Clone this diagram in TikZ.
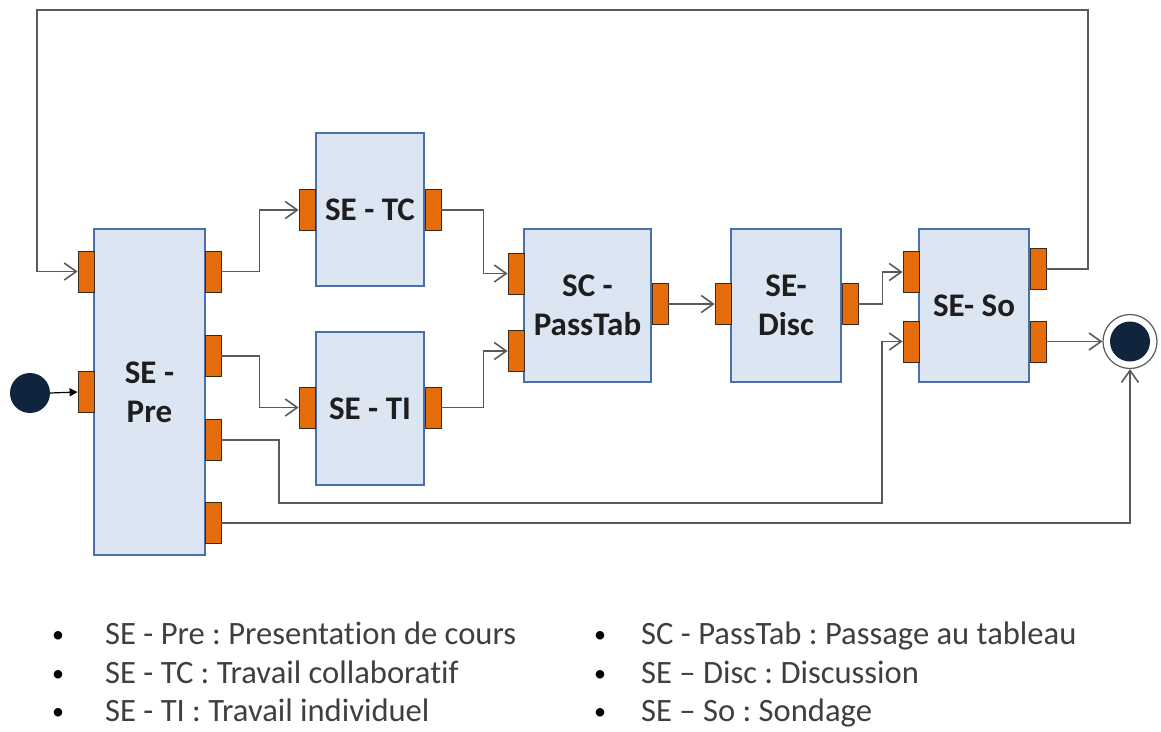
\documentclass[tikz,border=0pt]{standalone}
\usepackage{fontspec}
\setmainfont{Carlito}[Ligatures=NoCommon]
\usetikzlibrary{arrows.meta}
\definecolor{boxfill}{HTML}{DCE6F2}
\definecolor{boxdraw}{HTML}{4A6FAB}
\definecolor{portfill}{HTML}{E46C0A}
\definecolor{portdraw}{HTML}{3A2A1A}
\definecolor{flowcol}{HTML}{5A5A5A}
\definecolor{navy}{HTML}{10243E}
\definecolor{legcol}{HTML}{3F3F3F}
\definecolor{labcol}{HTML}{1E1E1E}
\frenchspacing
\begin{document}
\begin{tikzpicture}[x=1pt,y=-1pt,
  sbox/.style={draw=boxdraw, fill=boxfill, line width=1.4pt, inner sep=0pt,
    align=center, text=labcol, font=\fontsize{33}{39}\selectfont\bfseries},
  port/.style={draw=portdraw, fill=portfill, line width=0.8pt,
    minimum width=16pt, minimum height=41pt, inner sep=0pt},
  flow/.style={draw=flowcol, line width=1.7pt, -{Straight Barb[length=12pt,width=17pt,line width=1.6pt]}},
  legtext/.style={anchor=base west, inner sep=0pt, text=legcol, font=\fontsize{32.6}{38}\selectfont},
  bullet/.style={anchor=base, inner sep=0pt, text=black, font=\fontsize{24}{30}\selectfont}
]
\useasboundingbox (0,0) rectangle (1161,731);

% boxes
\node[sbox, minimum width=111pt, minimum height=326pt] (pre) at (149.5,392) {SE -\\Pre};
\node[sbox, minimum width=108pt, minimum height=153pt] (tc) at (370,209.5) {SE - TC};
\node[sbox, minimum width=108pt, minimum height=153pt] (ti) at (370,408.5) {SE - TI};
\node[sbox, minimum width=127pt, minimum height=153pt] (pt) at (587.5,305.5) {SC -\\PassTab};
\node[sbox, minimum width=110pt, minimum height=153pt] (disc) at (786,305.5) {SE-\\Disc};
\node[sbox, minimum width=110pt, minimum height=153pt] (so) at (974,305.5) {SE- So};

% ports
\node[port] (preL1) at (86,271.5) {};
\node[port] (preL2) at (86,392) {};
\node[port] (preR1) at (213,271.5) {};
\node[port] (preR2) at (213,356) {};
\node[port] (preR3) at (213,440) {};
\node[port] (preR4) at (213,523) {};
\node[port] (tcL) at (307,210) {};
\node[port] (tcR) at (433,210) {};
\node[port] (tiL) at (307,407.5) {};
\node[port] (tiR) at (433,407.5) {};
\node[port] (ptL1) at (516,273.5) {};
\node[port] (ptL2) at (516,351) {};
\node[port] (ptR) at (660,304) {};
\node[port] (dL) at (723,304) {};
\node[port] (dR) at (850,304) {};
\node[port] (soL1) at (911,272) {};
\node[port] (soL2) at (911,341.5) {};
\node[port] (soR1) at (1038,269) {};
\node[port] (soR2) at (1038,341.5) {};

% initial and final
\node[circle, fill=navy, minimum size=40pt, inner sep=0pt] (init) at (30,393) {};
\node[circle, draw=flowcol, line width=1.2pt, fill=white, minimum size=54pt, inner sep=0pt] (final) at (1130,341.5) {};
\node[circle, fill=navy, minimum size=40pt, inner sep=0pt] (finalin) at (1130,341.5) {};

% helper coordinates
\coordinate (topR) at (1088,10);
\coordinate (topL) at (37,10);
\coordinate (j3) at (279,503);
\coordinate (j3b) at (882,503);

% connectors
\draw[line width=1.2pt, -{Triangle[length=8pt,width=8pt]}] (init.east) -- (preL2.west);
\draw[flow] (preR1.east) -- ++(38,0) |- (tcL.west);
\draw[flow] (preR2.east) -- ++(38,0) |- (tiL.west);
\draw[flow] (preR3.east) -| (j3) -- (j3b) |- (soL2.west);
\draw[flow] (preR4.east) -| (final.south);
\draw[flow] (tcR.east) -- ++(42,0) |- (ptL1.west);
\draw[flow] (tiR.east) -- ++(42,0) |- (ptL2.west);
\draw[flow] (ptR.east) -- (dL.west);
\draw[flow] (dR.east) -- ++(24,0) |- (soL1.west);
\draw[flow] (soR2.east) -- (final.west);
\draw[flow] (soR1.east) -| (topR) -- (topL) |- (preL1.west);

% legend
\node[bullet] (b1) at (58,642) {•};
\node[bullet] (b2) at (58,681) {•};
\node[bullet] (b3) at (58,719) {•};
\node[legtext] (l1) at (105,644) {SE - Pre : Presentation de cours};
\node[legtext] (l2) at (105,683) {SE - TC : Travail collaboratif};
\node[legtext] (l3) at (105,721) {SE - TI : Travail individuel};
\node[bullet] (b4) at (600,642) {•};
\node[bullet] (b5) at (600,681) {•};
\node[bullet] (b6) at (600,719) {•};
\node[legtext] (l4) at (641,644) {SC - PassTab : Passage au tableau};
\node[legtext] (l5) at (641,683) {SE – Disc : Discussion};
\node[legtext] (l6) at (641,721) {SE – So : Sondage};
\end{tikzpicture}
\end{document}
